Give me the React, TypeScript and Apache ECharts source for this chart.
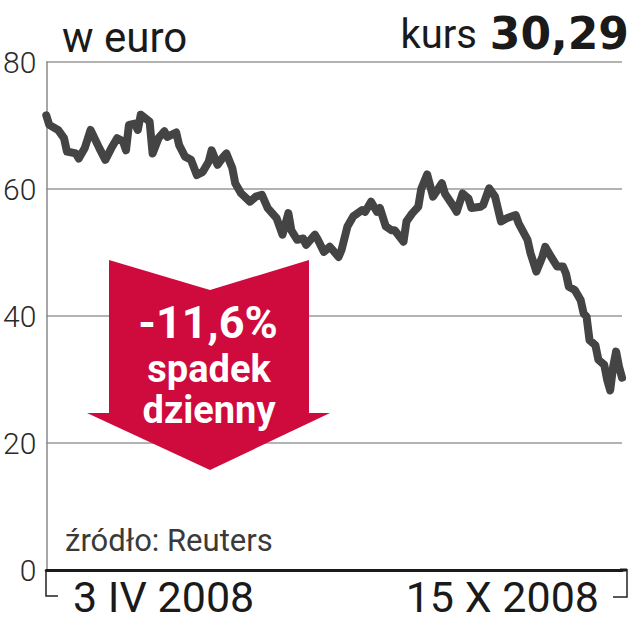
import React, { useEffect, useRef } from "react";
import * as echarts from "echarts";

// trading-day offsets from 3 IV 2008 (calendar days) and closing prices in EUR
const days = [
  0, 1, 4, 6, 7, 10, 11, 13, 15, 18,
  20, 22, 24, 26, 27, 28, 30, 31, 32, 35,
  36, 38, 40, 41, 44, 45, 47, 49, 51, 53,
  55, 56, 58, 60, 61, 63, 64, 66, 69, 71,
  73, 75, 78, 80, 82, 83, 85, 87, 88, 91,
  92, 94, 96, 97, 99, 100, 102, 104, 107, 108,
  110, 112, 113, 115, 117, 118, 121, 122, 124, 126,
  127, 129, 131, 134, 135, 138, 139, 141, 143, 144,
  147, 148, 150, 152, 154, 156, 159, 160, 163, 164,
  166, 168, 169, 171, 173, 175, 176, 177, 179, 181,
  182, 183, 184, 186, 187, 189, 190, 191, 192, 193,
  194, 195,
];
const prices = [
  71.6, 70.1, 69.3, 68.0, 65.9, 65.6, 64.8, 66.4, 69.3, 66.4,
  64.6, 66.4, 68.0, 67.5, 66.1, 70.1, 70.3, 69.3, 71.7, 70.6,
  65.6, 68.0, 69.1, 68.2, 68.9, 66.9, 65.1, 64.6, 62.2, 62.7,
  64.3, 66.1, 63.8, 65.1, 65.6, 63.3, 60.9, 59.3, 58.0, 58.8,
  59.1, 57.0, 55.4, 52.8, 56.2, 53.5, 52.0, 52.2, 51.2, 52.8,
  52.0, 50.1, 50.9, 50.4, 49.3, 50.4, 54.1, 55.7, 56.7, 56.4,
  58.0, 56.4, 57.0, 54.1, 53.5, 53.5, 51.7, 54.9, 56.2, 57.2,
  60.0, 62.3, 58.8, 60.9, 59.3, 57.2, 56.4, 59.3, 58.5, 57.0,
  57.2, 57.5, 60.1, 58.8, 54.9, 55.4, 55.9, 54.6, 52.0, 49.9,
  47.0, 49.3, 50.9, 49.3, 47.8, 47.8, 46.7, 44.6, 44.1, 42.5,
  40.4, 39.9, 36.2, 35.4, 33.1, 32.3, 29.9, 28.3, 32.0, 34.4,
  32.0, 30.29,
];
const xLabels = ["3 IV 2008", "15 X 2008"];
const unitLabel = "w euro";
const kursLabel = "kurs";
const kursValue = "30,29";
const changeLines = ["-11,6%", "spadek", "dzienny"];
const sourceLabel = "źródło: Reuters";

export default function App() {
  const ref = useRef<HTMLDivElement>(null);

  useEffect(() => {
    if (!ref.current) return;
    const chart = echarts.init(ref.current, undefined, { renderer: "svg" });
    const data = days.map((d, i) => [d, prices[i]]);
    const red = "#cf0a3c";
    chart.setOption({
      animation: false,
      backgroundColor: "#ffffff",
      grid: { left: 46, right: 12, top: 62, bottom: 70 },
      xAxis: {
        type: "value",
        min: 0,
        max: 195,
        axisLine: { show: true, onZero: false, lineStyle: { color: "#1a1a1a", width: 3 } },
        axisTick: { show: false },
        axisLabel: { show: false },
        splitLine: { show: false },
      },
      yAxis: {
        type: "value",
        min: 0,
        max: 80,
        interval: 20,
        axisLine: { show: true, lineStyle: { color: "#8a8a8a", width: 1.5 } },
        axisTick: { show: false },
        axisLabel: {
          fontFamily: "Roboto",
          fontWeight: 300,
          fontSize: 30,
          color: "#2a2a2a",
          margin: 10,
        },
        splitLine: { lineStyle: { color: "#9a9a9a", width: 1.5 } },
      },
      series: [
        {
          type: "line",
          data,
          showSymbol: false,
          symbol: "none",
          lineStyle: { color: "#444444", width: 8, cap: "round", join: "round" },
          z: 3,
        },
      ],
      graphic: [
        {
          type: "text",
          x: 62,
          y: 37,
          style: {
            text: unitLabel,
            fontFamily: "Roboto",
            fontSize: 42,
            fill: "#1a1a1a",
            align: "left",
            verticalAlign: "middle",
          },
        },
        {
          type: "text",
          x: 477,
          y: 34,
          style: {
            text: kursLabel,
            fontFamily: "Roboto",
            fontSize: 40,
            fill: "#1a1a1a",
            align: "right",
            verticalAlign: "middle",
          },
        },
        {
          type: "text",
          x: 629,
          y: 33,
          style: {
            text: kursValue,
            fontFamily: "DejaVu Sans",
            fontWeight: "bold",
            fontSize: 44,
            fill: "#1a1a1a",
            align: "right",
            verticalAlign: "middle",
          },
        },
        {
          type: "polygon",
          z: 50,
          shape: {
            points: [
              [109, 260],
              [210, 290],
              [309, 260],
              [309, 413],
              [330, 413],
              [210, 470],
              [87, 413],
              [109, 413],
            ],
          },
          style: { fill: red },
        },
        {
          type: "text",
          z: 51,
          x: 208,
          y: 322,
          style: {
            text: changeLines[0],
            fontFamily: "Roboto",
            fontWeight: "bold",
            fontSize: 45,
            fill: "#ffffff",
            align: "center",
            verticalAlign: "middle",
          },
        },
        {
          type: "text",
          z: 51,
          x: 209,
          y: 369,
          style: {
            text: changeLines[1],
            fontFamily: "Roboto",
            fontWeight: "bold",
            fontSize: 38,
            fill: "#ffffff",
            align: "center",
            verticalAlign: "middle",
          },
        },
        {
          type: "text",
          z: 51,
          x: 209,
          y: 410,
          style: {
            text: changeLines[2],
            fontFamily: "Roboto",
            fontWeight: "bold",
            fontSize: 38,
            fill: "#ffffff",
            align: "center",
            verticalAlign: "middle",
          },
        },
        {
          type: "text",
          x: 65,
          y: 540,
          style: {
            text: sourceLabel,
            fontFamily: "Roboto",
            fontSize: 31,
            fill: "#3a3a3a",
            align: "left",
            verticalAlign: "middle",
          },
        },
        {
          type: "line",
          shape: { x1: 620, y1: 570, x2: 627, y2: 570 },
          style: { stroke: "#1a1a1a", lineWidth: 3 },
        },
        {
          type: "polyline",
          shape: { points: [[46, 570], [46, 596], [58, 596]] },
          style: { stroke: "#222", lineWidth: 1.5, fill: null },
        },
        {
          type: "polyline",
          shape: { points: [[613, 597], [627, 597], [627, 569]] },
          style: { stroke: "#222", lineWidth: 1.5, fill: null },
        },
        {
          type: "text",
          x: 73,
          y: 597,
          style: {
            text: xLabels[0],
            fontFamily: "Roboto",
            fontSize: 43,
            fill: "#1a1a1a",
            align: "left",
            verticalAlign: "middle",
          },
        },
        {
          type: "text",
          x: 599,
          y: 597,
          style: {
            text: xLabels[1],
            fontFamily: "Roboto",
            fontSize: 43,
            fill: "#1a1a1a",
            align: "right",
            verticalAlign: "middle",
          },
        },
      ],
    });
    return () => chart.dispose();
  }, []);

  return (
    <div
      ref={ref}
      style={{ position: "absolute", left: 0, top: 0, width: 634, height: 640 }}
    />
  );
}
